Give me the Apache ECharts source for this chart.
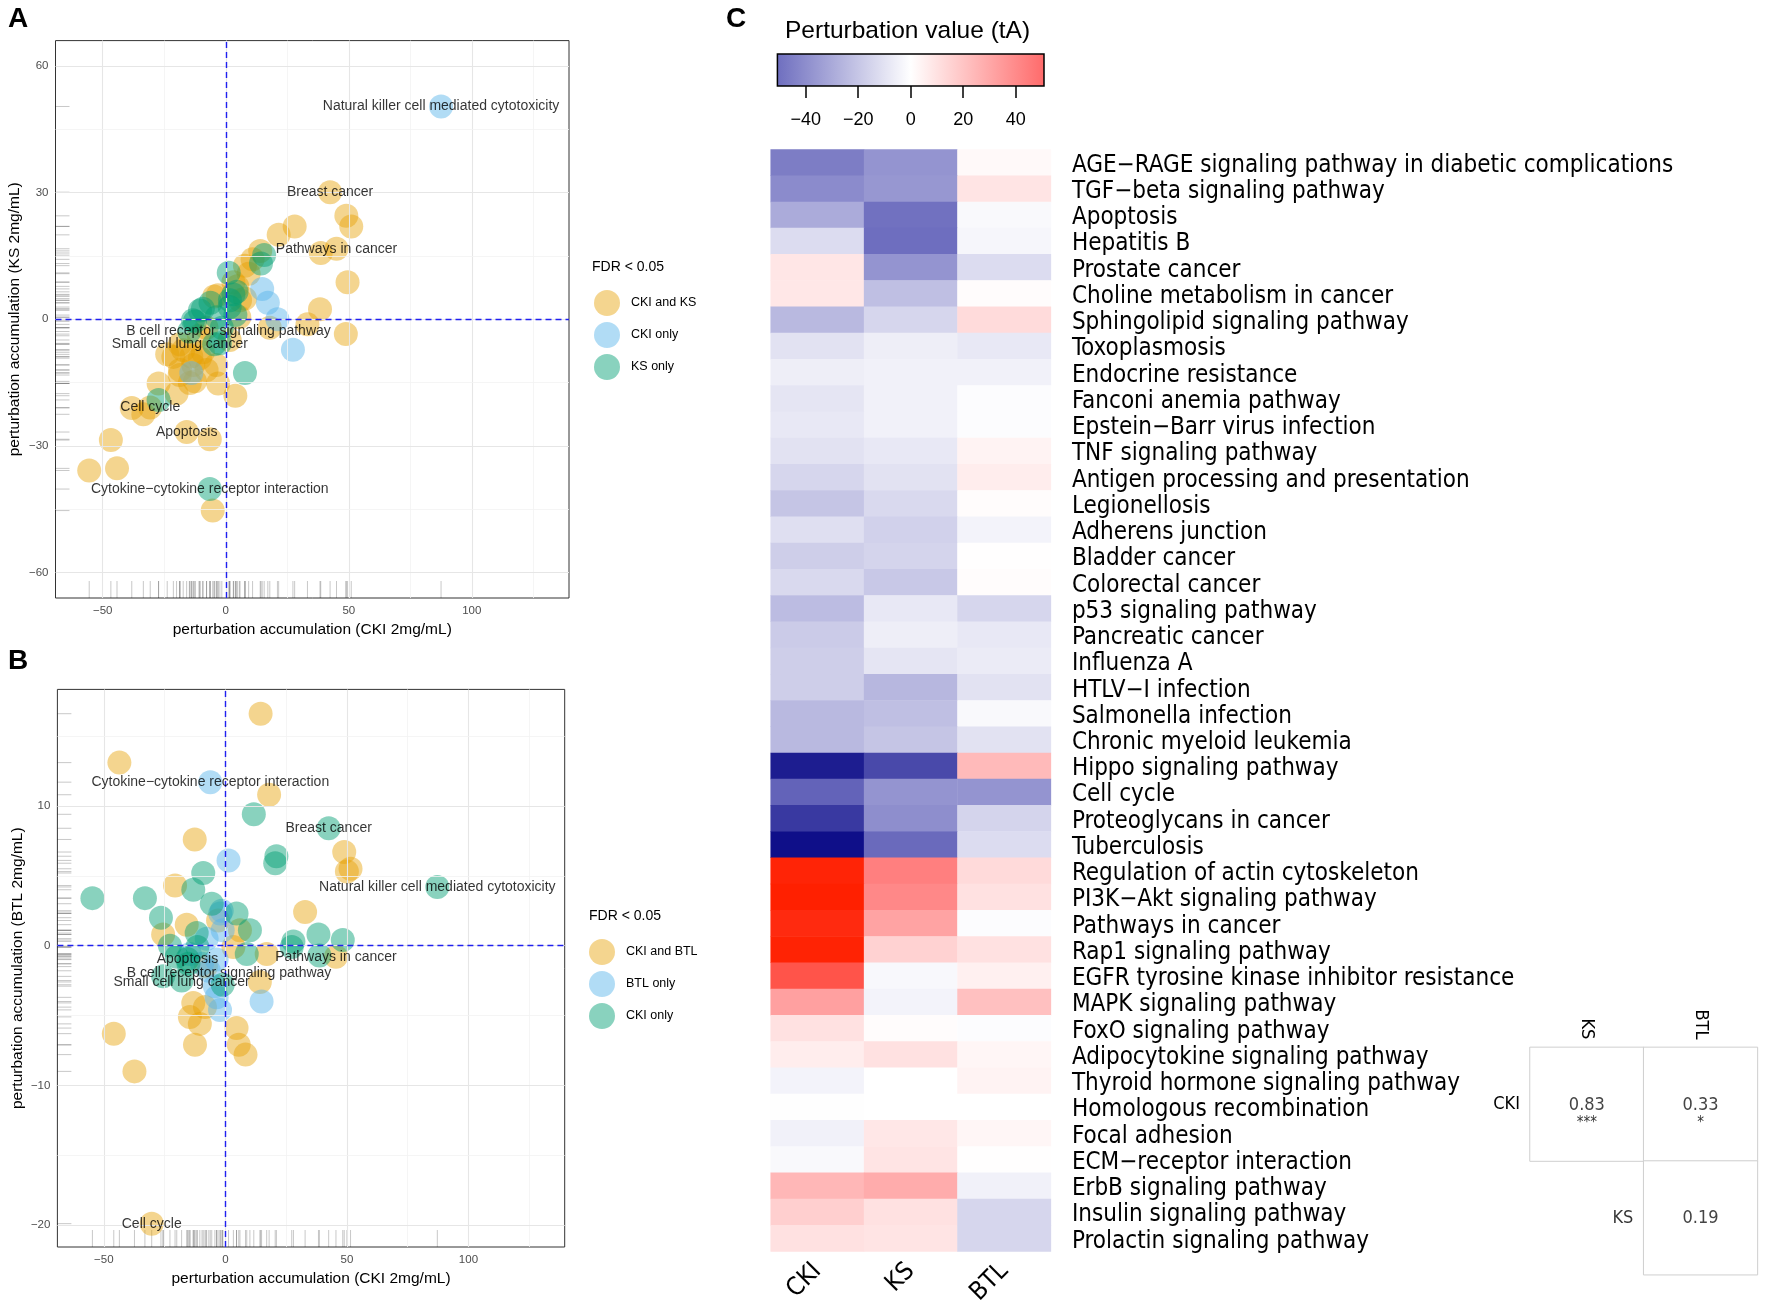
<!DOCTYPE html>
<html><head><meta charset="utf-8">
<script src="https://cdn.jsdelivr.net/npm/echarts@6/dist/echarts.min.js"></script>
<style>html,body{margin:0;padding:0;background:#fff}#c{width:1766px;height:1315px}</style>
</head><body><div id="c"></div>
<script>
const NARROW = '"Liberation Sans Narrow","Arial Narrow","Nimbus Sans Narrow","DejaVu Sans Condensed",sans-serif';
const SANS = '"Liberation Sans",Arial,Helvetica,sans-serif';

// ---------- Panel A : CKI vs KS ----------
const aBoth = [[42.4,30.1],[49,24.5],[51,22],[28,22],[21.5,20],[45,16.7],[38.6,15.7],[49.5,8.8],[38.3,2.4],[33.2,-1.2],[48.8,-3.5],[17.9,-2],[3.9,-18.1],[-3.1,-15.2],[14,16.2],[10.9,14.2],[7.8,12.7],[-6.5,-28.4],[-15.9,-26.7],[-46.7,-28.6],[-55.5,-35.8],[-44.2,-35.3],[-5.3,-45.3],[-38.2,-21],[-33.5,-22.5],[-27.3,-15.2],[-20,-17.6],[-30.7,-20.9],[-23.8,-8.3],[-18.7,-13.2],[-12.5,-14.7],[-13.2,-10.8],[-4.7,5.4],[4.7,7.8],[7.8,4.9],[5.5,0.5],[-7.8,-2],[-10.9,-3.9],[-18.7,-5.9],[-9.3,-7.8],[-3.9,-10.8],[-14,-8.8],[1.6,-4.9],[3.1,8.8],[9.3,10.8],[-3.2,5.7],[5.8,4.5],[-17.3,-7.3],[-21.3,-8.9],[-10.5,-9.2],[-18.6,-12],[-7.8,-12],[-14.6,-15.1]];
const aCkiOnly = [[87.5,50.4],[14.8,7.2],[17.1,3.9],[21,0],[27.3,-7.2],[-14,-12.7]];
const aKsOnly = [[15.6,15.2],[14.3,13.2],[1.2,11],[7.8,-12.7],[-6.5,-40.2],[-27.3,-19.1],[-9.3,2.5],[-12.5,-0.5],[-6.2,3.9],[1.6,2.9],[3.1,5.9],[-4.7,-5.9],[-14.8,-2.9],[-1.6,-2],[3.9,1],[4.4,6.5],[1.7,4.5],[-10.5,2.1],[-13.3,-0.2],[-3.7,0.5],[-2.4,-5.7]];
const aLabels = [['Natural killer cell mediated cytotoxicity',87.5,50.4],['Breast cancer',42.4,30.1],['Pathways in cancer',45,16.7],['B cell receptor signaling pathway',1.1,-2.7],['Small cell lung cancer',-18.7,-5.9],['Cell cycle',-30.7,-20.9],['Apoptosis',-15.9,-26.7],['Cytokine\u2212cytokine receptor interaction',-6.5,-40.2]];
const aLegend = ['CKI and KS','CKI only','KS only'];
const aXTicks = [-50,0,50,100], aXMinor = [-25,25,75,125];
const aYTicks = [-60,-30,0,30,60], aYMinor = [-45,-15,15,45];

// ---------- Panel B : CKI vs BTL ----------
const bBoth = [[14.5,16.6],[-43.6,13.1],[18,10.8],[-12.6,7.6],[48.9,6.7],[50,5.3],[51.5,5.5],[-20.7,4.3],[32.8,2.4],[-15.9,1.5],[-25.6,0.8],[6,1.1],[3.3,-0.1],[17,-0.6],[45.5,-0.8],[14.2,-2.6],[-13.2,-4.1],[-8.4,-4.4],[-14.6,-5.1],[-10.5,-5.6],[4.6,-5.9],[-12.5,-7.1],[5.5,-7.1],[8.3,-7.8],[-45.9,-6.3],[-37.4,-9.0],[-30.3,-19.9],[-3,1.8],[-8,-1.5]];
const bBtlOnly = [[-6.2,11.7],[1.3,6.1],[-1.5,2.5],[-7.7,0.5],[-14.6,-0.6],[-3.6,-1],[-4.3,-2.9],[-3.6,-3.7],[-2.2,-4.6],[14.9,-4.0],[-2.1,2.3],[-6.8,-1.8],[-1.1,1.1],[-9.6,-1.3]];
const bCkiOnly = [[11.7,9.4],[42.5,8.4],[21,6.4],[20.5,5.9],[87.2,4.2],[-9.1,5.2],[-13.2,4.0],[-54.7,3.4],[-33.1,3.4],[-26.5,2.0],[-5.6,3.0],[4.6,2.3],[10.1,1.1],[-11.8,0.9],[8.8,-0.6],[-22.8,0.0],[-20,-0.8],[-25.6,-2.2],[38.3,0.8],[48.3,0.4],[28,0.3],[27.3,-0.1],[38.7,-0.7],[-18,-2.5],[-11.5,-0.1],[-15.2,-1.3],[-1.1,-2.8],[-15.6,-0.95]];
const bLabels = [['Cytokine\u2212cytokine receptor interaction',-6.2,11.7],['Breast cancer',42.5,8.4],['Natural killer cell mediated cytotoxicity',87.2,4.2],['Pathways in cancer',45.5,-0.8],['Apoptosis',-15.6,-0.95],['B cell receptor signaling pathway',1.5,-2.0],['Small cell lung cancer',-18,-2.6],['Cell cycle',-30.3,-19.9]];
// trailing spaces keep legend names distinct from panel A (trimmed in the legend formatter)
const bLegend = ['CKI and BTL ','BTL only ','CKI only '];
const bXTicks = [-50,0,50,100], bXMinor = [-25,25,75,125];
const bYTicks = [-20,-10,0,10], bYMinor = [-15,-5,5,15];

// ---------- Panel C : heatmap ----------
const pathways = ['AGE\u2212RAGE signaling pathway in diabetic complications','TGF\u2212beta signaling pathway','Apoptosis','Hepatitis B','Prostate cancer','Choline metabolism in cancer','Sphingolipid signaling pathway','Toxoplasmosis','Endocrine resistance','Fanconi anemia pathway','Epstein\u2212Barr virus infection','TNF signaling pathway','Antigen processing and presentation','Legionellosis','Adherens junction','Bladder cancer','Colorectal cancer','p53 signaling pathway','Pancreatic cancer','Influenza A','HTLV\u2212I infection','Salmonella infection','Chronic myeloid leukemia','Hippo signaling pathway','Cell cycle','Proteoglycans in cancer','Tuberculosis','Regulation of actin cytoskeleton','PI3K\u2212Akt signaling pathway','Pathways in cancer','Rap1 signaling pathway','EGFR tyrosine kinase inhibitor resistance','MAPK signaling pathway','FoxO signaling pathway','Adipocytokine signaling pathway','Thyroid hormone signaling pathway','Homologous recombination','Focal adhesion','ECM\u2212receptor interaction','ErbB signaling pathway','Insulin signaling pathway','Prolactin signaling pathway'];
const drugs = ['CKI','KS','BTL'];
const ckiVals = [-45,-40,-29,-12,8.5,8,-24,-10,-6,-9,-8,-10,-14,-20,-11,-17,-13,-23,-18,-17,-17,-24,-24,-87,-55,-74,-93,97,100,93,98,65,32,10,6,-4,-0.5,-5,-2,24,16,10];
const ksVals = [-37,-36,-49,-50,-37,-22,-14,-6,-5,-5,-5,-8,-10,-13,-16,-15,-19,-8,-6,-9,-25,-22,-20,-67,-37,-39,-52,43,40,31,15,-2.5,-4,1,10,0,0,8,9,28,10,9];
const btlVals = [2,9,-2,-3,-12,1,12,-8,-5,-1,-1,4,6,1,-4,0.5,1,-14,-8,-7,-10,-2,-10,23,-37,-15,-12,12.5,10,-1,10,5,21,-1,3,4,0,3,0.5,-5,-14,-14];
const cbTicks = [-40,-20,0,20,40];

// ---------- correlation table ----------
const corrCols = ['KS','BTL'];
const corrRows = ['CKI','KS'];
const corrCells = [['KS','CKI',0.83,'***'],['BTL','CKI',0.33,'*'],['BTL','KS',0.19,'']];

const C_OR = 'rgba(230,159,0,0.55)', C_BL = 'rgba(86,180,233,0.58)', C_GR = 'rgba(0,158,115,0.58)';
const minus = v => String(v).replace('-', '\u2212');

function gridLines(xt, xm, yt, ym) {
  const maj = {color:'#E6E6E6', width:1.1, type:'solid'};
  const mn = {color:'#F2F2F2', width:0.8, type:'solid'};
  return [].concat(
    xt.map(v => ({xAxis:v, lineStyle:maj})), xm.map(v => ({xAxis:v, lineStyle:mn})),
    yt.map(v => ({yAxis:v, lineStyle:maj})), ym.map(v => ({yAxis:v, lineStyle:mn})));
}
function scatterAxes(gi, xmin, xmax, xt, ymin, ymax, yt, xname, yname, xgap, ygap) {
  const tick = {show:true, length:4, lineStyle:{color:'#333', width:1}};
  const lab = {color:'#4D4D4D', fontSize:11.5, fontFamily:SANS, margin:7, formatter:minus};
  return {
    x: {type:'value', gridIndex:gi, min:xmin, max:xmax, axisLine:{show:false}, splitLine:{show:false},
        axisTick:Object.assign({customValues:xt}, tick), axisLabel:Object.assign({customValues:xt}, lab),
        name:xname, nameLocation:'middle', nameGap:xgap, nameTextStyle:{fontSize:15.5, color:'#000', fontFamily:SANS}},
    y: {type:'value', gridIndex:gi, min:ymin, max:ymax, axisLine:{show:false}, splitLine:{show:false},
        axisTick:Object.assign({customValues:yt}, tick), axisLabel:Object.assign({customValues:yt}, lab),
        name:yname, nameLocation:'middle', nameGap:ygap, nameRotate:90, nameTextStyle:{fontSize:15.5, color:'#000', fontFamily:SANS}}
  };
}
const axA = scatterAxes(0, -69.2, 139.5, aXTicks, -66, 66, aYTicks, 'perturbation accumulation (CKI 2mg/mL)', 'perturbation accumulation (KS 2mg/mL)', 24, 33);
const axB = scatterAxes(1, -69.1, 139.6, bXTicks, -21.57, 18.34, bYTicks, 'perturbation accumulation (CKI 2mg/mL)', 'perturbation accumulation (BTL 2mg/mL)', 24, 32);

function pts(name, data, color, xi) {
  return {name, type:'scatter', xAxisIndex:xi, yAxisIndex:xi, data, symbolSize:24, z:3, silent:true,
          itemStyle:{color}, emphasis:{disabled:true}, animation:false};
}
function labels(data, xi) {
  return {type:'scatter', xAxisIndex:xi, yAxisIndex:xi, symbolSize:0, z:10, silent:true, animation:false,
          data: data.map(d => ({name:d[0], value:[d[1], d[2]]})),
          label:{show:true, position:'inside', formatter:'{b}', color:'#000', fontSize:14, fontFamily:SANS}};
}
function rug(data, xi) {
  return {type:'custom', xAxisIndex:xi, yAxisIndex:xi, data, z:2, silent:true, animation:false,
    renderItem:(params, api) => {
      const p = api.coord([api.value(0), api.value(1)]);
      const cs = params.coordSys;
      const st = {stroke:'rgba(0,0,0,0.22)', lineWidth:1};
      return {type:'group', children:[
        {type:'line', shape:{x1:p[0], y1:cs.y+cs.height-17, x2:p[0], y2:cs.y+cs.height}, style:st},
        {type:'line', shape:{x1:cs.x, y1:p[1], x2:cs.x+14, y2:p[1]}, style:st}]};
    }};
}
function lines(xi, ml, z) {
  return {type:'scatter', xAxisIndex:xi, yAxisIndex:xi, data:[], z, silent:true,
          markLine:{silent:true, symbol:'none', animation:false, label:{show:false}, data:ml}};
}
const zeroLine = {color:'#2020F0', width:1.4, type:[6,4]};

const heatData = [];
pathways.forEach((p, i) => {
  heatData.push([0, i, ckiVals[i]]);
  heatData.push([1, i, ksVals[i]]);
  heatData.push([2, i, btlVals[i]]);
});

const series = [
  lines(0, gridLines(aXTicks, aXMinor, aYTicks, aYMinor), 1),
  rug(aBoth.concat(aCkiOnly, aKsOnly), 0),
  pts(aLegend[0], aBoth, C_OR, 0), pts(aLegend[1], aCkiOnly, C_BL, 0), pts(aLegend[2], aKsOnly, C_GR, 0),
  lines(0, [{xAxis:0, lineStyle:zeroLine}, {yAxis:0, lineStyle:zeroLine}], 5),
  labels(aLabels, 0),
  lines(1, gridLines(bXTicks, bXMinor, bYTicks, bYMinor), 1),
  rug(bBoth.concat(bBtlOnly, bCkiOnly), 1),
  pts(bLegend[0], bBoth, C_OR, 1), pts(bLegend[1], bBtlOnly, C_BL, 1), pts(bLegend[2], bCkiOnly, C_GR, 1),
  lines(1, [{xAxis:0, lineStyle:zeroLine}, {yAxis:0, lineStyle:zeroLine}], 5),
  labels(bLabels, 1),
  {type:'heatmap', xAxisIndex:3, yAxisIndex:3, data:heatData, silent:true, animation:false, itemStyle:{borderWidth:0}, emphasis:{disabled:true}},
  {type:'heatmap', xAxisIndex:4, yAxisIndex:4, silent:true, animation:false, emphasis:{disabled:true},
   data: corrCells.map(c => ({value:[c[0], c[1], c[2]], stars:c[3],
     label:{offset:[0, c[3] ? 10 : 0]},
     itemStyle:{color:'#fff', borderColor:'#CFCFCF', borderWidth:1}})),
   label:{show:true, fontFamily:NARROW, formatter: p => '{v|' + p.value[2].toFixed(2) + '}' + (p.data.stars ? '\n{s|' + p.data.stars + '}' : ''),
     rich:{v:{fontSize:18, color:'#444', fontFamily:NARROW, lineHeight:18}, s:{fontSize:15, color:'#333', lineHeight:18}}}},
  {type:'scatter', xAxisIndex:4, yAxisIndex:4, symbolSize:0, silent:true, animation:false, data:[['KS','KS']],
   label:{show:true, formatter:'KS', position:[36,0], align:'center', verticalAlign:'middle', fontSize:18, color:'#000', fontFamily:NARROW}}
];
const heatIndex = 14;

const titleStyle = (t, left, top, size, weight, font) => ({text:t, left, top, padding:0,
  textStyle:{fontSize:size, fontWeight:weight, color:'#000', fontFamily:font}});
const legendText = {fontSize:12.5, color:'#000', fontFamily:SANS};

const option = {
  backgroundColor:'#fff',
  animation:false,
  title:[
    titleStyle('A', 8, 5, 28, 'bold', SANS),
    titleStyle('B', 8, 647, 28, 'bold', SANS),
    titleStyle('C', 726, 5, 28, 'bold', SANS),
    titleStyle('FDR < 0.05', 592, 260, 14, 'normal', SANS),
    titleStyle('FDR < 0.05', 589, 909, 14, 'normal', SANS),
    titleStyle('Perturbation value (tA)', 785, 19, 24.5, 'normal', SANS)
  ],
  legend:[
    {data:aLegend, orient:'vertical', left:589, top:285, itemWidth:38, itemHeight:26, itemGap:6, icon:'circle',
     symbolKeepAspect:true, selectedMode:false, textStyle:legendText},
    {data:bLegend, orient:'vertical', left:584, top:934, itemWidth:38, itemHeight:26, itemGap:6, icon:'circle',
     symbolKeepAspect:true, selectedMode:false, textStyle:legendText, formatter:n => n.trim()}
  ],
  grid:[
    {left:55.5, top:40.6, width:513.5, height:557.4, show:true, borderColor:'#333', borderWidth:1, backgroundColor:'#fff'},
    {left:57.4, top:689.4, width:507.3, height:557.6, show:true, borderColor:'#333', borderWidth:1, backgroundColor:'#fff'},
    {left:777.4, top:54, width:266.6, height:32, show:true, borderColor:'#000', borderWidth:1.5,
     backgroundColor:new echarts.graphic.LinearGradient(0,0,1,0,[{offset:0,color:'#6E6EBF'},{offset:0.5,color:'#FFFFFF'},{offset:1,color:'#FF6A6A'}])},
    {left:770.7, top:149.4, width:280.2, height:1102},
    {left:1530, top:1047.4, width:227.4, height:227.3}
  ],
  xAxis:[axA.x, axB.x,
    {type:'value', gridIndex:2, min:-50.8, max:50.8, axisLine:{show:false}, splitLine:{show:false},
     axisTick:{show:true, customValues:cbTicks, length:12, lineStyle:{color:'#000', width:1.5}},
     axisLabel:{customValues:cbTicks, margin:25, fontSize:18, color:'#000', fontFamily:SANS, formatter:minus}},
    {type:'category', gridIndex:3, data:drugs, position:'bottom', axisLine:{show:false}, axisTick:{show:false}, splitLine:{show:false},
     axisLabel:{rotate:45, fontSize:25, margin:16, color:'#000', fontFamily:NARROW}},
    {type:'category', gridIndex:4, data:corrCols, position:'top', axisLine:{show:false}, axisTick:{show:false},
     axisLabel:{rotate:90, fontSize:18, margin:8, color:'#000', fontFamily:NARROW}}
  ],
  yAxis:[axA.y, axB.y,
    {type:'value', gridIndex:2, min:0, max:1, show:false},
    {type:'category', gridIndex:3, data:pathways, inverse:true, position:'right', axisLine:{show:false}, axisTick:{show:false},
     axisLabel:{margin:21, interval:0, formatter: v => '{r|' + v + '}',
       rich:{r:{fontSize:24, color:'#000', fontFamily:NARROW, padding:[6,0,0,0]}}}},
    {type:'category', gridIndex:4, data:corrRows, inverse:true, axisLine:{show:false}, axisTick:{show:false},
     axisLabel:{margin:10, fontSize:18, color:'#000', fontFamily:NARROW, formatter:v => v === 'CKI' ? v : ''}}
  ],
  visualMap:{type:'continuous', show:false, seriesIndex:heatIndex, dimension:2, min:-100, max:100,
    inRange:{color:['#000080','#6E6EBF','#FFFFFF','#FF6A6A','#FF2000']}},
  series
};
const chart = echarts.init(document.getElementById('c'));
chart.setOption(option);
</script></body></html>
